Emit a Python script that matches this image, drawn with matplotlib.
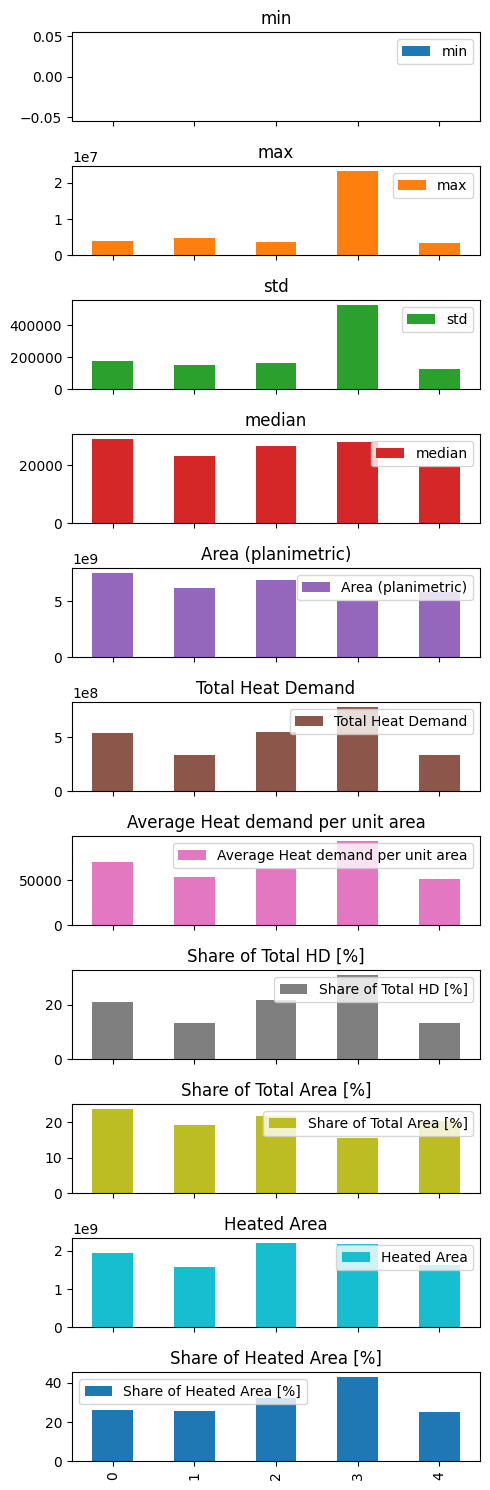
import matplotlib
matplotlib.use("Agg")
import matplotlib.pyplot as plt
import pandas as pd

index = [0, 1, 2, 3, 4]
min_vals = [0, 0, 0, 0, 0]
max_vals = [4.07e6, 4.8e6, 3.7e6, 2.34e7, 3.4e6]
std_vals = [176000, 151000, 163000, 528000, 126000]
median_vals = [29250, 23350, 26800, 28200, 19800]
area_vals = [7.53e9, 6.19e9, 6.9e9, 5.0e9, 5.8e9]
total_hd_vals = [5.44e8, 3.375e8, 5.53e8, 7.875e8, 3.375e8]
avg_hd_vals = [70370, 53700, 62000, 93700, 51500]
share_hd_vals = [21.2, 13.5, 22.0, 31.2, 13.5]
share_area_vals = [23.8, 19.2, 21.8, 15.6, 20.4]
heated_area_vals = [1.956e9, 1.59e9, 2.22e9, 2.18e9, 1.64e9]
share_heated_vals = [26.3, 25.8, 32.5, 43.2, 25.3]

df = pd.DataFrame({
    "min": min_vals,
    "max": max_vals,
    "std": std_vals,
    "median": median_vals,
    "Area (planimetric)": area_vals,
    "Total Heat Demand": total_hd_vals,
    "Average Heat demand per unit area": avg_hd_vals,
    "Share of Total HD [%]": share_hd_vals,
    "Share of Total Area [%]": share_area_vals,
    "Heated Area": heated_area_vals,
    "Share of Heated Area [%]": share_heated_vals,
}, index=index)

axes = df.plot(kind="bar", subplots=True, figsize=(4.9, 14.9), legend=False)
for i, ax in enumerate(axes):
    loc = "upper left" if i == len(axes) - 1 else "upper right"
    ax.legend(loc=loc)
plt.subplots_adjust(left=72/490, right=480/490, top=1-32.3/1490,
                    bottom=1-1461.3/1490, hspace=0.506)
plt.savefig("out.png", dpi=100)
